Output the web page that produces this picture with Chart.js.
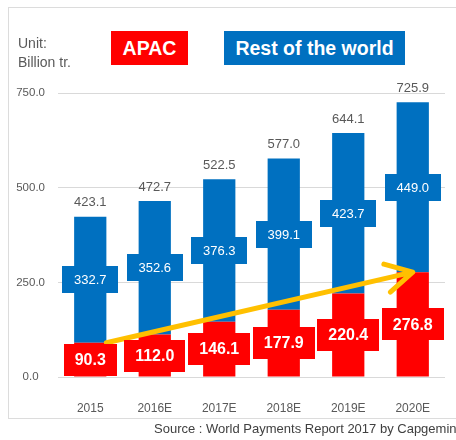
<!DOCTYPE html>
<html>
<head>
<meta charset="utf-8">
<script src="https://cdn.jsdelivr.net/npm/chart.js@4"></script>
<style>
  html, body { margin: 0; padding: 0; background: #fff; }
  body { width: 456px; height: 440px; position: relative; overflow: hidden; font-family: "Liberation Sans", Arial, sans-serif; }
  #frame { position: absolute; left: 8px; top: 7px; width: 520px; height: 410px; border: 1px solid #dcdcdc; }
  #chart { position: absolute; left: 0; top: 0; }
  .unit { position: absolute; left: 18px; top: 34px; font-size: 14px; line-height: 19px; color: #595959; }
  .tag { position: absolute; top: 31px; height: 34px; line-height: 34px; color: #fff; font-weight: bold; font-size: 19.5px; text-align: center; }
  .apac { left: 111px; width: 77px; background: #ff0000; }
  .rest { left: 224px; width: 181px; background: #0070c0; }
  .source { position: absolute; left: 154px; top: 421px; font-size: 13px; color: #404040; white-space: nowrap; }
</style>
</head>
<body>
<div id="frame"></div>
<canvas id="chart" width="456" height="440"></canvas>
<div class="unit">Unit:<br>Billion tr.</div>
<div class="tag apac">APAC</div>
<div class="tag rest">Rest of the world</div>
<div class="source">Source : World Payments Report 2017 by Capgemini</div>
<script>
// Transactions per year, billions
const years = ['2015', '2016E', '2017E', '2018E', '2019E', '2020E'];
const apac = [90.3, 112.0, 146.1, 177.9, 220.4, 276.8];
const restOfWorld = [332.7, 352.6, 376.3, 399.1, 423.7, 449.0];
const totals = [423.1, 472.7, 522.5, 577.0, 644.1, 725.9];
const yTicks = [0, 250, 500, 750];

const RED = '#ff0000';
const BLUE = '#0070c0';
const FONT = '"Liberation Sans", Arial, sans-serif';

// Boxed value labels, growth arrow and totals on top of the bars
const barLabels = {
  id: 'barLabels',
  afterDatasetsDraw(chart) {
    const ctx = chart.ctx;
    const redBars = chart.getDatasetMeta(0).data;
    const blueBars = chart.getDatasetMeta(1).data;

    // totals above each stack
    ctx.save();
    ctx.font = '13px ' + FONT;
    ctx.fillStyle = '#595959';
    ctx.textAlign = 'center';
    ctx.textBaseline = 'middle';
    blueBars.forEach((bar, i) => {
      ctx.fillText(totals[i].toFixed(1), bar.x, bar.y - 14);
    });
    ctx.restore();

    // growth arrow over the APAC tops
    const first = redBars[0];
    const last = redBars[redBars.length - 1];
    const x0 = first.x + first.width / 2, y0 = first.y;
    const x1 = last.x, y1 = last.y;
    const ang = Math.atan2(y1 - y0, x1 - x0);
    const head = 30, spread = 0.5;
    ctx.save();
    ctx.strokeStyle = '#ffc000';
    ctx.lineWidth = 5;
    ctx.lineCap = 'round';
    ctx.lineJoin = 'round';
    ctx.beginPath();
    ctx.moveTo(x0, y0);
    ctx.lineTo(x1, y1);
    ctx.moveTo(x1 - head * Math.cos(ang - spread), y1 - head * Math.sin(ang - spread));
    ctx.lineTo(x1, y1);
    ctx.lineTo(x1 - head * Math.cos(ang + spread), y1 - head * Math.sin(ang + spread));
    ctx.stroke();
    ctx.restore();

    const drawBox = (bar, text, color, font, padX, h) => {
      const cy = (bar.y + bar.base) / 2;
      ctx.font = font;
      const w = ctx.measureText(text).width + padX * 2;
      ctx.fillStyle = color;
      ctx.fillRect(Math.round(bar.x - w / 2), Math.round(cy - h / 2), Math.round(w), h);
      ctx.fillStyle = '#fff';
      ctx.textAlign = 'center';
      ctx.textBaseline = 'middle';
      ctx.fillText(text, bar.x, cy + 1);
    };

    ctx.save();
    blueBars.forEach((bar, i) => {
      drawBox(bar, restOfWorld[i].toFixed(1), BLUE, '13px ' + FONT, 11.5, 27);
    });
    redBars.forEach((bar, i) => {
      drawBox(bar, apac[i].toFixed(1), RED, 'bold 16px ' + FONT, 11, 32);
    });
    ctx.restore();
  }
};

new Chart(document.getElementById('chart'), {
  type: 'bar',
  data: {
    labels: years,
    datasets: [
      {
        label: 'APAC',
        data: apac,
        backgroundColor: RED,
        categoryPercentage: 1,
        barPercentage: 0.5
      },
      {
        label: 'Rest of the world',
        data: restOfWorld,
        backgroundColor: BLUE,
        categoryPercentage: 1,
        barPercentage: 0.5
      }
    ]
  },
  options: {
    responsive: false,
    animation: false,
    layout: { padding: { left: 8, right: 11, top: 93, bottom: 23 } },
    plugins: {
      legend: { display: false },
      tooltip: { enabled: false }
    },
    scales: {
      x: {
        stacked: true,
        grid: { display: false },
        border: { display: false },
        ticks: {
          color: '#595959',
          font: { family: FONT, size: 12 },
          padding: 16
        },
        afterFit: s => { s.height = 40; }
      },
      y: {
        stacked: true,
        min: 0,
        max: 750,
        afterBuildTicks: s => { s.ticks = yTicks.map(v => ({ value: v })); },
        grid: { color: '#d9d9d9', drawTicks: false },
        border: { display: false },
        ticks: {
          color: '#595959',
          font: { family: FONT, size: 11.5 },
          crossAlign: 'center',
          padding: 13,
          callback: v => v.toFixed(1)
        },
        afterFit: s => { s.width = 50; }
      }
    }
  },
  plugins: [barLabels]
});
</script>
</body>
</html>
